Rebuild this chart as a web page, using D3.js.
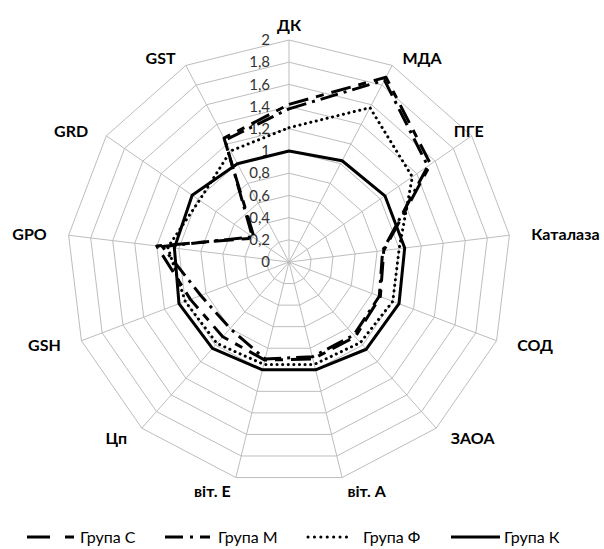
<!DOCTYPE html>
<html><head><meta charset="utf-8">
<script src="https://cdn.jsdelivr.net/npm/d3@7"></script>
<style>
html,body{margin:0;padding:0;background:#fff;}
svg{display:block;}
</style></head>
<body>
<svg id="chart" width="604" height="549"></svg>
<script>
const categories = ["ДК","МДА","ПГЕ","Каталаза","СОД","ЗАОА","віт. А","віт. Е","Цп","GSH","GPO","GRD","GST"];
const groupC = [1.42,1.88,1.55,0.86,0.88,0.90,0.90,0.91,0.90,0.95,1.20,0.38,1.26];
const groupM = [1.38,1.85,1.52,0.85,0.87,0.88,0.88,0.90,0.80,0.85,1.15,0.40,1.24];
const groupF = [1.21,1.57,1.35,1.00,1.00,0.97,0.95,0.95,0.98,1.00,1.10,0.98,1.13];
const groupK = [1.00,1.03,1.05,1.05,1.06,1.05,1.00,1.00,1.04,1.06,1.04,1.06,1.00];
const tickValues = [0,0.2,0.4,0.6,0.8,1,1.2,1.4,1.6,1.8,2];
const tickLabels = ["0","0,2","0,4","0,6","0,8","1","1,2","1,4","1,6","1,8","2"];
const seriesNames = ["Група С","Група М","Група Ф","Група К"];

const svg = d3.select("#chart");
const cx = 289, cy = 262, R = 222;
const FONT = "Lato, 'Open Sans', sans-serif";
const r = d3.scaleLinear().domain([0,2]).range([0,R]);
const ang = d3.scalePoint().domain(categories).range([0, 2*Math.PI*(categories.length-1)/categories.length]);
const pt = (c, v) => { const a = ang(c); return [cx + Math.sin(a)*r(v), cy - Math.cos(a)*r(v)]; };

const grid = svg.append("g");
tickValues.slice(1).forEach(v => {
  grid.append("path")
    .attr("d", d3.line()(categories.map(c => pt(c, v))) + "Z")
    .attr("fill","none").attr("stroke","#bdbdbd").attr("stroke-width",1);
});
categories.forEach(c => {
  const [x,y] = pt(c, 2);
  grid.append("line").attr("x1",cx).attr("y1",cy).attr("x2",x).attr("y2",y)
    .attr("stroke","#bdbdbd").attr("stroke-width",1);
});

// tick labels
svg.append("g").selectAll("text").data(tickValues).join("text")
  .attr("x", cx - 19).attr("y", d => cy - r(d))
  .attr("dy","0.35em").attr("text-anchor","end")
  .attr("font-family",FONT).attr("font-size",15)
  .attr("fill","#333")
  .text((d,i) => tickLabels[i]);

// category labels (Excel pulls the crowded ПГЕ label inward)
const labelShift = {"ПГЕ": -36};
svg.append("g").selectAll("text").data(categories).join("text")
  .each(function(c){
    const a = ang(c), dx = Math.sin(a), dy = -Math.cos(a);
    const [x,y] = pt(c, 2);
    let anchor = "middle";
    if (dx > 0.1) anchor = "start"; else if (dx < -0.1) anchor = "end";
    const oy = dy > 0 ? dy*14 : (Math.abs(dx) < 0.1 ? -15 : dy*8);
    d3.select(this).attr("x", x + dx*22 + (labelShift[c] || 0)).attr("y", y + oy)
      .attr("text-anchor", anchor).attr("dy","0.35em");
  })
  .attr("font-family",FONT).attr("font-size",16).attr("font-weight","bold")
  .attr("fill","#000")
  .text(d => d);

const styles = [
  {data: groupC, dash: "20,8,8,8", cap: "butt"},
  {data: groupM, dash: "18,6,3,6", cap: "butt"},
  {data: groupF, dash: "0.1,5.5", cap: "round"},
  {data: groupK, dash: null, cap: "butt"}
];
const line = d3.line().curve(d3.curveLinearClosed);
styles.forEach(s => {
  svg.append("path")
    .attr("d", line(categories.map((c,i) => pt(c, s.data[i]))))
    .attr("fill","none").attr("stroke","#000").attr("stroke-width",3)
    .attr("stroke-dasharray", s.dash).attr("stroke-linecap", s.cap)
    .attr("stroke-linejoin","round");
});

// legend
const legX = [27, 165, 308, 451];
const legLen = [49, 45, 39, 49];
const legText = [80, 218, 363, 504];
const legDash = ["23,15,9,20", "18,7,3,7", "0.1,6.3", null];
const lg = svg.append("g");
seriesNames.forEach((n,i) => {
  const s = styles[i];
  lg.append("line").attr("x1",legX[i]).attr("x2",legX[i]+legLen[i]).attr("y1",537).attr("y2",537)
    .attr("stroke","#000").attr("stroke-width",3)
    .attr("stroke-dasharray", legDash[i]).attr("stroke-linecap", s.cap);
  lg.append("text").attr("x", legText[i]).attr("y",537).attr("dy","0.35em")
    .attr("font-family",FONT).attr("font-size",16).attr("fill","#000")
    .text(n);
});
</script>
</body></html>
